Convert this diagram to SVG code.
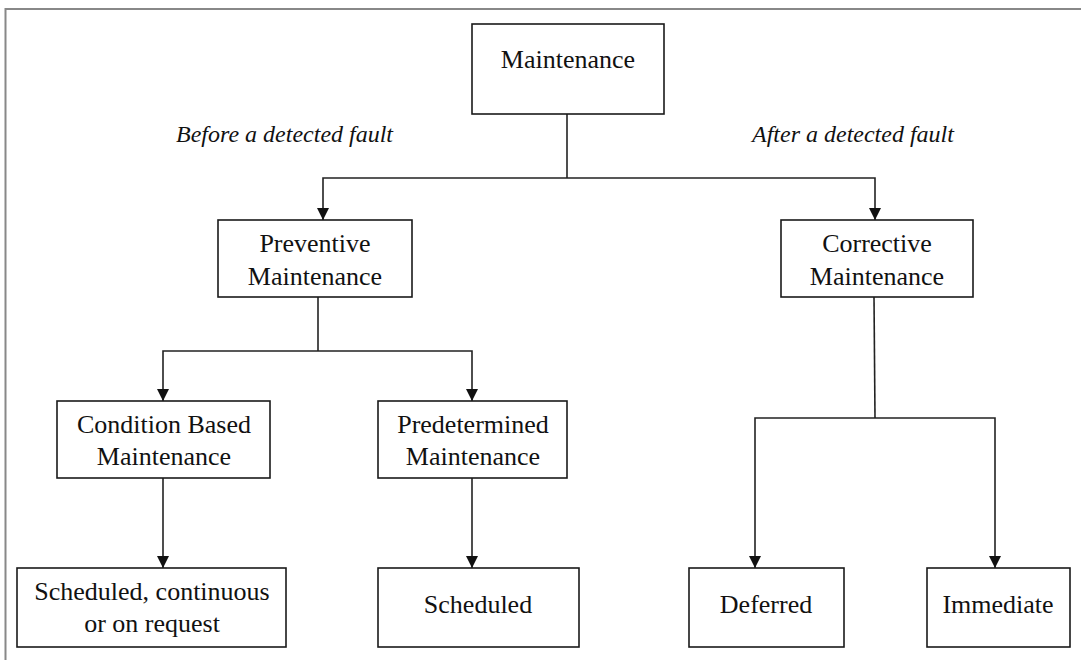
<svg xmlns="http://www.w3.org/2000/svg" width="1081" height="660" viewBox="0 0 1081 660">
<style>
  .box { fill: #ffffff; stroke: #1a1a1a; stroke-width: 1.6; }
  .lbl { font-family: "Liberation Serif", "Times New Roman", serif; font-size: 26px; fill: #111111; text-anchor: middle; }
  .note { font-family: "Liberation Serif", "Times New Roman", serif; font-size: 24px; font-style: italic; fill: #111111; }
  .conn { fill: none; stroke: #222222; stroke-width: 1.6; }
  .frame { fill: none; stroke: #888888; stroke-width: 2; }
</style>
<defs>
  <marker id="arrow" markerUnits="userSpaceOnUse" markerWidth="13" markerHeight="13" refX="12" refY="6" orient="auto">
    <path d="M0,0 L12,6 L0,12 z" fill="#111111"/>
  </marker>
</defs>
<rect width="1081" height="660" fill="#ffffff"/>
<path class="frame" d="M5.5,660 L5.5,9 L1081,9"/>

<g id="labels">
  <text class="note" x="176" y="142">Before a detected fault</text>
  <text class="note" x="752" y="142">After a detected fault</text>
</g>

<g id="connectors">
  <path class="conn" d="M567,114 L567,178"/>
  <path class="conn" d="M567,178 L323,178 L323,220" marker-end="url(#arrow)"/>
  <path class="conn" d="M567,178 L875,178 L875,220" marker-end="url(#arrow)"/>
  <path class="conn" d="M318,297 L318,351"/>
  <path class="conn" d="M318,351 L163,351 L163,401" marker-end="url(#arrow)"/>
  <path class="conn" d="M318,351 L472,351 L472,401" marker-end="url(#arrow)"/>
  <path class="conn" d="M163,478 L163,568" marker-end="url(#arrow)"/>
  <path class="conn" d="M472,478 L472,568" marker-end="url(#arrow)"/>
  <path class="conn" d="M874,297 L875,418"/>
  <path class="conn" d="M875,418 L755,418 L755,568" marker-end="url(#arrow)"/>
  <path class="conn" d="M875,418 L995,418 L995,568" marker-end="url(#arrow)"/>
</g>

<g id="maintenance">
  <rect class="box" x="472" y="24" width="192" height="90"/>
  <text class="lbl" x="568" y="68">Maintenance</text>
</g>
<g id="preventive">
  <rect class="box" x="218" y="220" width="194" height="77"/>
  <text class="lbl" x="315" y="252">Preventive</text>
  <text class="lbl" x="315" y="285">Maintenance</text>
</g>
<g id="corrective">
  <rect class="box" x="781" y="220" width="192" height="77"/>
  <text class="lbl" x="877" y="252">Corrective</text>
  <text class="lbl" x="877" y="285">Maintenance</text>
</g>
<g id="condition-based">
  <rect class="box" x="57" y="401" width="213" height="77"/>
  <text class="lbl" x="164" y="433">Condition Based</text>
  <text class="lbl" x="164" y="465">Maintenance</text>
</g>
<g id="predetermined">
  <rect class="box" x="378" y="401" width="189" height="77"/>
  <text class="lbl" x="473" y="433">Predetermined</text>
  <text class="lbl" x="473" y="465">Maintenance</text>
</g>
<g id="scheduled-continuous">
  <rect class="box" x="17" y="568" width="269" height="79"/>
  <text class="lbl" x="152" y="600">Scheduled, continuous</text>
  <text class="lbl" x="152" y="632">or on request</text>
</g>
<g id="scheduled">
  <rect class="box" x="378" y="568" width="201" height="79"/>
  <text class="lbl" x="478" y="613">Scheduled</text>
</g>
<g id="deferred">
  <rect class="box" x="689" y="568" width="155" height="79"/>
  <text class="lbl" x="766" y="613">Deferred</text>
</g>
<g id="immediate">
  <rect class="box" x="927" y="568" width="143" height="79"/>
  <text class="lbl" x="998" y="613">Immediate</text>
</g>
</svg>
